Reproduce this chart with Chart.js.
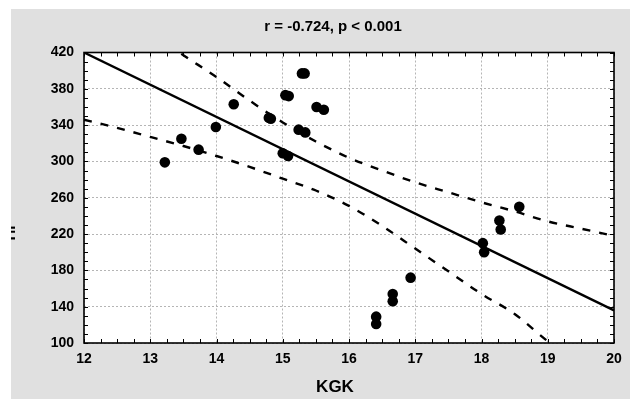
<!DOCTYPE html>
<html>
<head>
<meta charset="utf-8">
<script src="https://cdn.jsdelivr.net/npm/chart.js@4.4.0/dist/chart.umd.min.js"></script>
<style>
  html, body { margin: 0; padding: 0; background: #fff; }
  #wrap { width: 630px; height: 399px; }
</style>
</head>
<body>
<div id="wrap"><canvas id="chart" width="630" height="399"></canvas></div>
<script>
// --- Data ---
const kgk = [13.22, 13.47, 13.73, 13.99, 14.26, 14.79, 14.82, 15.00, 15.08, 15.04, 15.09, 15.24, 15.34, 15.29, 15.33, 15.51, 15.62,
             16.41, 16.41, 16.66, 16.66, 16.93, 18.02, 18.04, 18.27, 18.29, 18.57];
const values = [299, 325, 313, 338, 363, 348, 347, 309, 306, 373, 372, 335, 332, 397, 397, 360, 357,
                129, 121, 154, 146, 172, 210, 200, 235, 225, 250];

// regression line and its confidence band
const fitX = [12, 20];
const fitY = [420, 136];
const bandX = [12, 12.5, 13, 13.5, 14, 14.5, 15, 15.5, 16, 16.5, 17, 17.5, 18, 18.5, 19, 19.5, 20];
const bandUpper = [494, 467, 442, 417, 393, 367, 343, 322, 304, 290, 277, 266, 255, 245, 234, 226, 218];
const bandLower = [346, 337, 327, 317, 306, 294, 281, 268, 251, 229, 204, 179, 154, 132, 102, 78, 54];

const titleText = 'r = -0.724, p < 0.001';
const xTitle = 'KGK';
const yTitle = 'ПІ';

const toPoints = (xs, ys) => xs.map((x, i) => ({ x: x, y: ys[i] }));

// --- Background, frame, inside ticks and texts ---
const decor = {
    id: 'decor',
    beforeDraw(chart) {
        const { ctx, chartArea: a } = chart;
        ctx.save();
        ctx.fillStyle = '#ffffff';
        ctx.fillRect(0, 0, chart.width, chart.height);
        ctx.fillStyle = '#e0e0e0';
        ctx.fillRect(11, 9, chart.width - 11, chart.height - 9);
        ctx.fillStyle = '#ffffff';
        ctx.fillRect(a.left, a.top, a.right - a.left, a.bottom - a.top);
        ctx.restore();
    },
    afterDraw(chart) {
        const { ctx, chartArea: a } = chart;
        const xs = chart.scales.x, ys = chart.scales.y;
        ctx.save();
        ctx.strokeStyle = '#000';
        ctx.lineWidth = 1;
        ctx.beginPath();
        for (let v = 12; v <= 20.001; v += 0.25) {
            const px = Math.round(xs.getPixelForValue(v)) + 0.5;
            ctx.moveTo(px, a.bottom); ctx.lineTo(px, a.bottom - 4);
            ctx.moveTo(px, a.top); ctx.lineTo(px, a.top + 4);
        }
        for (let v = 100; v <= 420.001; v += 10) {
            const py = Math.round(ys.getPixelForValue(v)) + 0.5;
            ctx.moveTo(a.left, py); ctx.lineTo(a.left + 4, py);
            ctx.moveTo(a.right, py); ctx.lineTo(a.right - 4, py);
        }
        ctx.stroke();

        ctx.lineWidth = 1.6;
        ctx.strokeRect(a.left, a.top, a.right - a.left, a.bottom - a.top);

        ctx.fillStyle = '#000';
        ctx.textAlign = 'center';
        ctx.textBaseline = 'middle';
        ctx.font = 'bold 15px Arial';
        ctx.fillText(titleText, 333, 27);
        ctx.font = 'bold 17px Arial';
        ctx.fillText(xTitle, 335, 387);

        // y title is cut off by the left edge of the figure
        ctx.beginPath();
        ctx.rect(11, 0, 40, chart.height);
        ctx.clip();
        ctx.translate(15, 233);
        ctx.rotate(-Math.PI / 2);
        ctx.textBaseline = 'alphabetic';
        ctx.font = 'bold 15px Arial';
        ctx.fillText(yTitle, 0, 0);
        ctx.restore();
    }
};

const tickFont = { family: 'Arial', size: 14, weight: 'bold' };

new Chart(document.getElementById('chart'), {
    type: 'scatter',
    data: {
        datasets: [
            {
                data: toPoints(kgk, values),
                backgroundColor: '#000',
                borderWidth: 0,
                pointRadius: 5.3,
                pointHoverRadius: 5.3
            },
            {
                data: toPoints(fitX, fitY),
                showLine: true,
                borderColor: '#000',
                borderWidth: 2.4,
                pointRadius: 0
            },
            {
                data: toPoints(bandX, bandUpper),
                showLine: true,
                borderColor: '#000',
                borderWidth: 2.4,
                borderDash: [8, 9],
                cubicInterpolationMode: 'monotone',
                pointRadius: 0
            },
            {
                data: toPoints(bandX, bandLower),
                showLine: true,
                borderColor: '#000',
                borderWidth: 2.4,
                borderDash: [8, 9],
                cubicInterpolationMode: 'monotone',
                pointRadius: 0
            }
        ]
    },
    options: {
        responsive: false,
        animation: false,
        devicePixelRatio: 1,
        layout: { padding: { top: 52.5, right: 16, left: 0, bottom: 0 } },
        plugins: {
            legend: { display: false },
            tooltip: { enabled: false }
        },
        scales: {
            x: {
                type: 'linear',
                min: 12,
                max: 20,
                ticks: { stepSize: 1, color: '#000', font: tickFont, padding: 8, maxRotation: 0 },
                grid: { color: '#b5b5b5', lineWidth: 1, drawTicks: false },
                border: { display: false, dash: [2, 2] },
                afterFit(s) { s.height = 56; }
            },
            y: {
                min: 100,
                max: 420,
                ticks: { stepSize: 40, color: '#000', font: tickFont, padding: 10 },
                grid: { color: '#b5b5b5', lineWidth: 1, drawTicks: false },
                border: { display: false, dash: [2, 2] },
                afterFit(s) { s.width = 84; }
            }
        }
    },
    plugins: [decor]
});
</script>
</body>
</html>
